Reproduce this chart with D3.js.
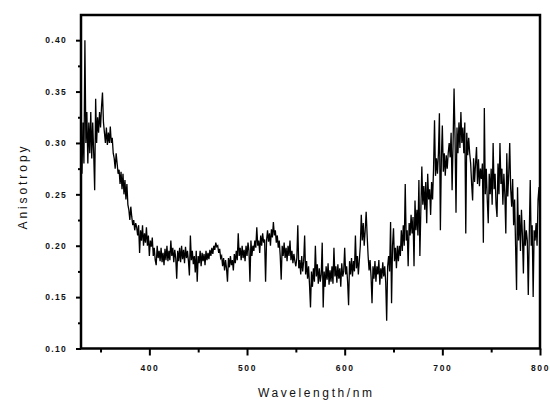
<!DOCTYPE html>
<html>
<head>
<meta charset="utf-8">
<script src="https://cdn.jsdelivr.net/npm/d3@7/dist/d3.min.js"></script>
<style>
  html, body { margin: 0; padding: 0; background: #fff; }
  svg { display: block; }
  .tick-label { font-family: "Liberation Sans", Arial, sans-serif; font-weight: bold; font-size: 8.5px; fill: #111; }
  .axis-title { font-family: "Liberation Sans", Arial, sans-serif; font-size: 12px; fill: #111; }
</style>
</head>
<body>
<svg id="chart" width="550" height="403"></svg>
<script>
// Spectrum sampled every 1 nm from 330 to 800 nm (one row = 10 nm)
const wlStart = 330, wlStep = 1;
const anisotropy = [
  0.29, 0.27, 0.32, 0.28, 0.40, 0.30, 0.33, 0.28, 0.32, 0.29,
  0.33, 0.285, 0.32, 0.29, 0.254, 0.343, 0.30, 0.325, 0.31, 0.33,
  0.315, 0.335, 0.349, 0.32, 0.31, 0.30, 0.315, 0.298, 0.31, 0.30,
  0.316, 0.30, 0.305, 0.29, 0.285, 0.275, 0.29, 0.28, 0.27, 0.274,
  0.26, 0.272, 0.255, 0.27, 0.25, 0.264, 0.245, 0.26, 0.24, 0.235,
  0.225, 0.238, 0.228, 0.22, 0.225, 0.215, 0.222, 0.218, 0.21, 0.22,
  0.193, 0.215, 0.205, 0.22, 0.2, 0.212, 0.203, 0.218, 0.2, 0.21,
  0.19, 0.205, 0.199, 0.208, 0.19, 0.198, 0.186, 0.181, 0.2, 0.188,
  0.195, 0.185, 0.198, 0.184, 0.193, 0.181, 0.197, 0.186, 0.2, 0.185,
  0.195, 0.186, 0.205, 0.19, 0.198, 0.184, 0.196, 0.188, 0.168, 0.195,
  0.185, 0.198, 0.184, 0.2, 0.187, 0.196, 0.183, 0.199, 0.188, 0.195,
  0.185, 0.171, 0.21, 0.186, 0.195, 0.182, 0.19, 0.174, 0.195, 0.165,
  0.19, 0.183, 0.195, 0.18, 0.193, 0.185, 0.192, 0.181, 0.195, 0.186,
  0.193, 0.187, 0.196, 0.19, 0.198, 0.192, 0.2, 0.196, 0.203, 0.199,
  0.2, 0.193, 0.197, 0.188, 0.19, 0.18, 0.188, 0.176, 0.186, 0.178,
  0.165, 0.188, 0.179, 0.19, 0.181, 0.186, 0.176, 0.192, 0.183, 0.195,
  0.186, 0.212, 0.19, 0.198, 0.186, 0.2, 0.188, 0.196, 0.185, 0.2,
  0.19, 0.203, 0.195, 0.165, 0.205, 0.19, 0.2, 0.195, 0.205, 0.198,
  0.218, 0.2, 0.205, 0.193, 0.21, 0.2, 0.212, 0.203, 0.206, 0.165,
  0.205, 0.215, 0.204, 0.212, 0.2, 0.216, 0.208, 0.223, 0.21, 0.215,
  0.203, 0.21, 0.198, 0.205, 0.19, 0.167, 0.2, 0.19, 0.203, 0.188,
  0.198, 0.185, 0.2, 0.19, 0.205, 0.186, 0.195, 0.183, 0.192, 0.185,
  0.18, 0.188, 0.22, 0.178, 0.186, 0.172, 0.19, 0.175, 0.185, 0.21,
  0.172, 0.185, 0.168, 0.18, 0.162, 0.14, 0.175, 0.16, 0.178, 0.165,
  0.2, 0.17, 0.182, 0.163, 0.178, 0.165, 0.172, 0.203, 0.14, 0.175,
  0.16, 0.18, 0.167, 0.183, 0.162, 0.176, 0.165, 0.18, 0.163, 0.198,
  0.17, 0.18, 0.164, 0.182, 0.168, 0.178, 0.16, 0.183, 0.17, 0.175,
  0.198, 0.172, 0.18, 0.165, 0.142, 0.185, 0.172, 0.188, 0.17, 0.185,
  0.175, 0.21, 0.178, 0.19, 0.172, 0.186, 0.2, 0.23, 0.205, 0.222,
  0.2, 0.215, 0.233, 0.21, 0.19, 0.176, 0.186, 0.17, 0.144, 0.18,
  0.168, 0.185, 0.165, 0.18, 0.172, 0.186, 0.162, 0.178, 0.168, 0.184,
  0.17, 0.18, 0.165, 0.127, 0.18, 0.19, 0.175, 0.223, 0.144, 0.2,
  0.217, 0.185, 0.198, 0.178, 0.2, 0.185, 0.2, 0.19, 0.215, 0.195,
  0.22, 0.2, 0.26, 0.205, 0.215, 0.18, 0.222, 0.21, 0.23, 0.212,
  0.228, 0.18, 0.244, 0.215, 0.235, 0.21, 0.264, 0.19, 0.235, 0.277,
  0.24, 0.258, 0.235, 0.262, 0.222, 0.27, 0.245, 0.255, 0.23, 0.262,
  0.245, 0.275, 0.322, 0.268, 0.285, 0.27, 0.29, 0.329, 0.215, 0.285,
  0.317, 0.272, 0.29, 0.268, 0.288, 0.275, 0.29, 0.3, 0.286, 0.31,
  0.254, 0.3, 0.353, 0.305, 0.232, 0.315, 0.29, 0.32, 0.295, 0.33,
  0.3, 0.315, 0.29, 0.32, 0.212, 0.31, 0.288, 0.305, 0.29, 0.28,
  0.26, 0.244, 0.285, 0.262, 0.28, 0.296, 0.26, 0.284, 0.258, 0.275,
  0.265, 0.28, 0.203, 0.334, 0.25, 0.275, 0.245, 0.222, 0.27, 0.25,
  0.275, 0.24, 0.3, 0.255, 0.27, 0.24, 0.228, 0.28, 0.25, 0.3,
  0.26, 0.275, 0.24, 0.27, 0.25, 0.212, 0.29, 0.248, 0.27, 0.3,
  0.255, 0.238, 0.265, 0.22, 0.245, 0.2, 0.157, 0.257, 0.205, 0.23,
  0.195, 0.235, 0.21, 0.173, 0.225, 0.2, 0.215, 0.205, 0.152, 0.21,
  0.264, 0.2, 0.22, 0.15, 0.215, 0.205, 0.222, 0.2, 0.245, 0.257,
  0.225
];
const wavelengths = anisotropy.map((_, i) => wlStart + i * wlStep);

const xTicks = [400, 500, 600, 700, 800];
const xMinorTicks = [350, 450, 550, 650, 750];
const yTicks = [0.10, 0.15, 0.20, 0.25, 0.30, 0.35, 0.40];
const yMinorTicks = [0.125, 0.175, 0.225, 0.275, 0.325, 0.375];
const xTitle = "Wavelength/nm";
const yTitle = "Anisotropy";

const svg = d3.select("#chart");
const plotLeft = 81, plotRight = 540, plotTop = 15, plotBottom = 348.5;

const x = d3.scaleLinear().domain([330, 800]).range([plotLeft, plotRight]);
const y = d3.scaleLinear().domain([0.10, 0.4245]).range([plotBottom, plotTop]);

// data trace
const line = d3.line()
  .x((d, i) => x(wavelengths[i]))
  .y(d => y(d));

svg.append("path")
  .datum(anisotropy)
  .attr("d", line)
  .attr("fill", "none")
  .attr("stroke", "#000")
  .attr("stroke-width", 1.3)
  .attr("stroke-linejoin", "miter");

// frame
svg.append("rect")
  .attr("x", plotLeft).attr("y", plotTop)
  .attr("width", plotRight - plotLeft).attr("height", plotBottom - plotTop)
  .attr("fill", "none").attr("stroke", "#000").attr("stroke-width", 2.5);

// x axis ticks and labels
const xAxis = d3.axisBottom(x).tickValues(xTicks).tickSize(7).tickPadding(9)
  .tickFormat(d3.format("d"));
const gx = svg.append("g").attr("transform", `translate(0,${plotBottom})`).call(xAxis);
gx.select(".domain").remove();
gx.selectAll(".tick line").attr("stroke", "#000").attr("stroke-width", 2);
gx.selectAll(".tick text").attr("class", "tick-label")
  .style("letter-spacing", "1.6px");
gx.attr("font-size", null).attr("font-family", null);

const gxm = svg.append("g").attr("transform", `translate(0,${plotBottom})`)
  .call(d3.axisBottom(x).tickValues(xMinorTicks).tickSize(4).tickFormat(""));
gxm.select(".domain").remove();
gxm.selectAll(".tick line").attr("stroke", "#000").attr("stroke-width", 2);

// y axis ticks and labels
const yAxis = d3.axisLeft(y).tickValues(yTicks).tickSize(5).tickPadding(9)
  .tickFormat(d3.format(".2f"));
const gy = svg.append("g").attr("transform", `translate(${plotLeft},0)`).call(yAxis);
gy.select(".domain").remove();
gy.selectAll(".tick line").attr("stroke", "#000").attr("stroke-width", 2);
gy.selectAll(".tick text").attr("class", "tick-label")
  .style("letter-spacing", "1.3px");
gy.attr("font-size", null).attr("font-family", null);

const gym = svg.append("g").attr("transform", `translate(${plotLeft},0)`)
  .call(d3.axisLeft(y).tickValues(yMinorTicks).tickSize(3).tickFormat(""));
gym.select(".domain").remove();
gym.selectAll(".tick line").attr("stroke", "#000").attr("stroke-width", 2);

// axis titles
svg.append("text").attr("class", "axis-title")
  .attr("x", 315).attr("y", 396.5)
  .attr("text-anchor", "middle")
  .attr("textLength", 114).attr("lengthAdjust", "spacing")
  .text(xTitle);

svg.append("text").attr("class", "axis-title")
  .attr("transform", "translate(26.5,188) rotate(-90)")
  .attr("text-anchor", "middle")
  .attr("textLength", 83).attr("lengthAdjust", "spacing")
  .text(yTitle);
</script>
</body>
</html>
